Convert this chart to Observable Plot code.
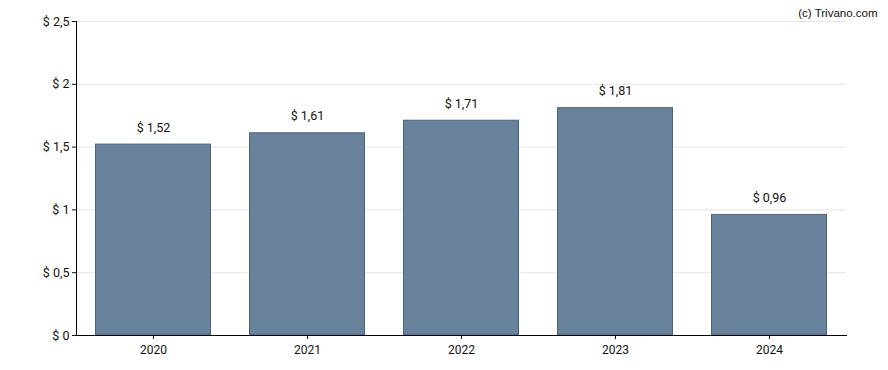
<!DOCTYPE html>
<html>
<head>
<meta charset="utf-8">
<script src="https://cdn.jsdelivr.net/npm/d3@7"></script>
<script src="https://cdn.jsdelivr.net/npm/@observablehq/plot@0.6"></script>
<style>
  body { margin: 0; background: #fff; }
  #chart { width: 888px; height: 370px; }
  svg { font-family: Roboto, "Liberation Sans", sans-serif; }
</style>
</head>
<body>
<div id="chart"></div>
<script>
const years = ["2020", "2021", "2022", "2023", "2024"];
const values = [1.52, 1.61, 1.71, 1.81, 0.96];
const yTicks = [0, 0.5, 1, 1.5, 2, 2.5];
const credit = "(c) Trivano.com";

const data = years.map((y, i) => ({year: y, value: values[i]}));
const fmt = d => "$ " + String(d).replace(".", ",");
const fmt2 = d => "$ " + d.toFixed(2).replace(".", ",");

const chart = Plot.plot({
  width: 888,
  height: 370,
  marginLeft: 76,
  marginRight: 42,
  marginTop: 21,
  marginBottom: 35,
  style: {fontSize: "12px", fontFamily: "Roboto, 'Liberation Sans', sans-serif", color: "#111"},
  x: {domain: years, paddingInner: 0.25, paddingOuter: 0.125, label: null},
  y: {domain: [0, 2.5], label: null},
  marks: [
    Plot.gridY(yTicks, {stroke: "#e4e4e4", strokeOpacity: 1}),
    Plot.barY(data, {x: "year", y: "value", fill: "#67829a", stroke: "#4a6479", strokeWidth: 1, insetLeft: 0.5, insetRight: 0.5}),
    Plot.text(data, {x: "year", y: "value", text: d => fmt2(d.value), dy: -17, fontSize: 12.5, fill: "#111"}),
    Plot.axisY({ticks: yTicks, tickFormat: fmt, tickSize: 4, tickPadding: 3, fontSize: 12.5, label: null}),
    Plot.axisX({tickSize: 4, tickPadding: 6, fontSize: 12, label: null}),
    Plot.frame({anchor: "left", stroke: "#000", strokeOpacity: 1}),
    Plot.frame({anchor: "bottom", stroke: "#000", strokeOpacity: 1}),
    Plot.text([credit], {frameAnchor: "top-right", text: d => d, dx: 31, dy: -13, fontSize: 11.5, fill: "#111", fontFamily: "'Liberation Sans', Arial, sans-serif"})
  ]
});
document.getElementById("chart").appendChild(chart);
</script>
</body>
</html>
